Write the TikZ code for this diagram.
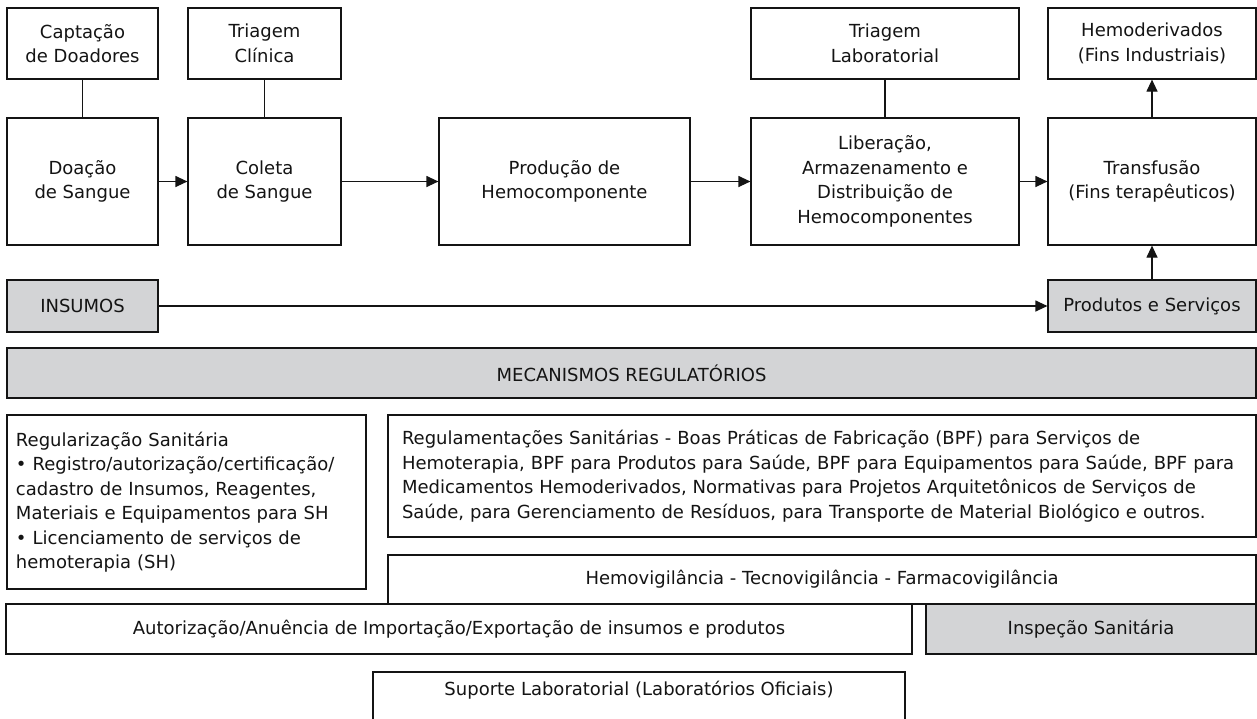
\documentclass[tikz,border=0pt]{standalone}
\usepackage{fontspec}
\setmainfont{DejaVu Sans}
\usetikzlibrary{arrows.meta}
\definecolor{boxfill}{RGB}{211,212,214}
\definecolor{ink}{RGB}{20,20,20}
\begin{document}
\begin{tikzpicture}[x=1pt,y=-1pt,
  every node/.style={font=\fontsize{18}{24.5}\selectfont, text=ink},
  box/.style={draw=ink, line width=1.2pt, inner sep=0pt, align=center, minimum width=#1},
  top/.style={box=#1, minimum height=71pt},
  big/.style={box=#1, minimum height=127pt},
  mid/.style={box=#1, minimum height=52pt, fill=boxfill},
  conn/.style={draw=ink, line width=1.2pt},
  arr/.style={conn, -{Triangle[length=12pt,width=11pt]}}
]
\useasboundingbox (0,0) rectangle (1257,718);
\fill[white] (0,0) rectangle (1257,718);
% top row
\node[top=151pt] (cap) at (82.5,43.5) {Captação\\de Doadores};
\node[top=153pt] (tcl) at (264.5,43.5) {Triagem\\Clínica};
\node[top=268pt] (tlab) at (885,43.5) {Triagem\\Laboratorial};
\node[top=208pt] (hem) at (1152,43.5) {Hemoderivados\\(Fins Industriais)};
% main row
\node[big=151pt] (doa) at (82.5,181.5) {Doação\\de Sangue};
\node[big=153pt] (col) at (264.5,181.5) {Coleta\\de Sangue};
\node[big=251pt] (prod) at (564.5,181.5) {Produção de\\Hemocomponente};
\node[big=268pt] (lib) at (885,181.5) {Liberação,\\Armazenamento e\\Distribuição de\\Hemocomponentes};
\node[big=208pt] (tra) at (1152,181.5) {Transfusão\\(Fins terapêuticos)};
% insumos row
\node[mid=151pt] (ins) at (82.5,306) {INSUMOS};
\node[mid=208pt] (pro) at (1152,306) {Produtos e Serviços};
% mecanismos
\node[box=1249pt, minimum height=50pt, fill=boxfill] (mec) at (631.5,373) {MECANISMOS REGULATÓRIOS};
% regulation boxes
\node[box=359pt, minimum height=174pt, align=left, text width=341pt, inner xsep=9pt] (reg) at (186.5,502)
  {Regularização Sanitária\\• Registro/autorização/certificação/\\cadastro de Insumos, Reagentes,\\Materiais e Equipamentos para SH\\• Licenciamento de serviços de\\hemoterapia (SH)};
\node[box=868pt, minimum height=122pt, align=left, text width=840pt, inner xsep=14pt] (rgm) at (822,476)
  {Regulamentações Sanitárias - Boas Práticas de Fabricação (BPF) para Serviços de\\Hemoterapia, BPF para Produtos para Saúde, BPF para Equipamentos para Saúde, BPF para\\Medicamentos Hemoderivados, Normativas para Projetos Arquitetônicos de Serviços de\\Saúde, para Gerenciamento de Resíduos, para Transporte de Material Biológico e outros.};
\node[box=868pt, minimum height=49pt] (hemo) at (822,579.5) {Hemovigilância - Tecnovigilância - Farmacovigilância};
\node[box=906pt, minimum height=50pt, fill=white] (aut) at (459,629) {Autorização/Anuência de Importação/Exportação de insumos e produtos};
\node[box=330pt, minimum height=50pt, fill=boxfill] (insp) at (1091,629) {Inspeção Sanitária};
\node (sup) at (639,690) {Suporte Laboratorial (Laboratórios Oficiais)};
\draw[conn] (373,720) |- (905,672) -- (905,720);
% connectors
\draw[conn] (cap) -- (doa);
\draw[conn] (tcl) -- (col);
\draw[conn] (tlab) -- (lib);
\draw[arr] (doa) -- (col);
\draw[arr] (col) -- (prod);
\draw[arr] (prod) -- (lib);
\draw[arr] (lib) -- (tra);
\draw[arr] (tra) -- (hem);
\draw[arr] (pro) -- (tra);
\draw[arr] (ins) -- (pro);
\end{tikzpicture}
\end{document}
